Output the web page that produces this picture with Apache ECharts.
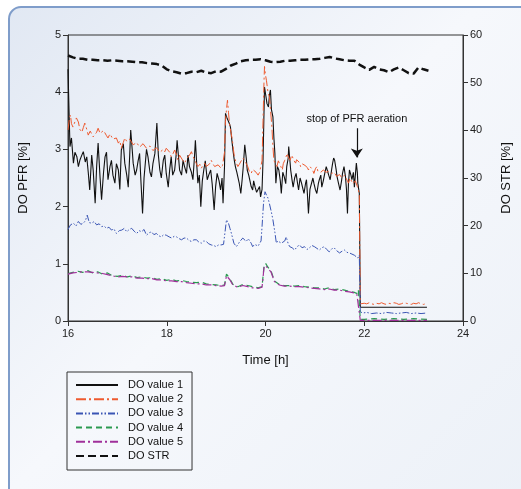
<!DOCTYPE html>
<html>
<head>
<meta charset="utf-8">
<script src="https://cdn.jsdelivr.net/npm/echarts@6/dist/echarts.min.js"></script>
<style>html,body{margin:0;padding:0;background:#fff}#c{width:521px;height:489px}</style>
</head>
<body>
<div id="c"></div>
<script>
// ---- data ----
const legendNames = ['DO value 1', 'DO value 2', 'DO value 3', 'DO value 4', 'DO value 5', 'DO STR'];
const xTicks = [16, 18, 20, 22, 24];
const annotationText = 'stop of PFR aeration';
const annotationTime = 21.85;
const annotationFrom = 3.37;
const annotationTo = 2.86;

const do1Time = [16.00,16.02,16.04,16.07,16.11,16.14,16.18,16.21,16.24,16.28,16.31,16.35,16.38,16.41,16.44,16.48,16.51,16.55,16.58,16.61,16.65,16.68,16.72,16.75,16.78,16.81,16.85,16.88,16.91,16.95,16.98,17.02,17.05,17.08,17.12,17.15,17.19,17.22,17.25,17.27,17.30,17.32,17.36,17.39,17.42,17.45,17.48,17.51,17.54,17.56,17.59,17.62,17.66,17.69,17.72,17.76,17.78,17.80,17.83,17.86,17.89,17.93,17.96,17.99,18.03,18.06,18.09,18.12,18.16,18.19,18.21,18.24,18.26,18.30,18.33,18.36,18.40,18.43,18.46,18.50,18.53,18.56,18.58,18.61,18.63,18.66,18.69,18.72,18.75,18.78,18.82,18.85,18.89,18.92,18.96,18.99,19.02,19.06,19.09,19.12,19.14,19.17,19.19,19.22,19.24,19.27,19.29,19.32,19.34,19.37,19.39,19.42,19.44,19.47,19.50,19.53,19.55,19.58,19.61,19.63,19.66,19.68,19.71,19.74,19.76,19.79,19.82,19.85,19.88,19.90,19.93,19.95,19.98,20.01,20.03,20.06,20.08,20.10,20.12,20.15,20.17,20.19,20.21,20.24,20.27,20.30,20.32,20.35,20.38,20.41,20.43,20.46,20.47,20.50,20.51,20.54,20.56,20.59,20.62,20.65,20.67,20.70,20.73,20.76,20.78,20.81,20.83,20.85,20.87,20.90,20.93,20.96,20.98,21.01,21.04,21.07,21.09,21.12,21.14,21.17,21.20,21.23,21.25,21.28,21.31,21.34,21.36,21.38,21.40,21.43,21.45,21.48,21.51,21.54,21.56,21.59,21.62,21.64,21.66,21.68,21.70,21.73,21.75,21.78,21.80,21.82,21.84,21.86,21.87,21.90,21.92,23.27];
const do1Value = [4.40,3.70,3.05,3.20,2.76,2.95,2.87,2.70,2.81,2.90,2.96,2.78,2.87,2.60,2.29,2.90,2.64,2.06,2.70,3.11,2.50,2.12,2.60,2.87,2.95,2.47,2.70,2.81,2.55,2.41,2.75,2.64,2.30,2.99,3.10,2.76,2.55,2.34,2.90,3.34,3.00,2.76,2.55,2.64,2.80,2.93,2.40,1.88,2.50,2.70,3.00,2.87,2.60,2.52,2.75,2.93,3.20,3.46,2.90,2.64,2.50,2.81,2.90,2.58,2.34,2.65,2.87,2.55,2.64,2.90,3.16,2.85,2.64,2.55,2.81,2.70,2.58,2.90,2.70,2.60,2.47,2.85,3.16,2.70,2.41,2.55,2.00,2.45,2.64,2.80,2.47,2.55,2.64,2.40,1.94,2.35,2.58,2.45,2.29,2.50,2.06,2.70,3.63,3.55,3.51,3.45,3.39,3.15,2.99,2.80,2.70,2.60,2.52,2.40,2.23,2.50,2.70,3.08,2.85,2.64,2.55,2.47,2.35,2.29,2.45,2.34,2.25,2.23,2.35,2.17,2.30,2.81,4.09,3.92,3.80,3.74,3.95,4.04,3.70,3.57,3.20,2.93,2.41,2.70,2.64,2.45,2.23,2.60,2.52,2.40,2.70,2.85,3.05,2.75,2.64,2.45,2.34,2.50,2.58,2.40,2.29,2.50,2.41,2.30,2.23,2.40,2.47,2.20,1.88,2.30,2.29,2.50,2.41,2.30,2.23,2.40,2.47,2.55,2.34,2.45,2.58,2.70,2.64,2.55,2.47,2.65,2.76,2.85,2.81,2.65,2.52,2.40,2.29,2.45,2.58,2.70,2.52,2.30,1.88,2.40,2.64,2.55,2.47,2.60,2.34,2.55,2.76,2.60,2.41,2.23,0.24,0.24];

const do2Time = [16.00,16.03,16.05,16.07,16.10,16.14,16.17,16.21,16.24,16.28,16.31,16.34,16.38,16.41,16.45,16.48,16.51,16.55,16.58,16.61,16.65,16.68,16.72,16.75,16.78,16.81,16.85,16.88,16.91,16.95,16.98,17.02,17.05,17.08,17.12,17.15,17.19,17.22,17.25,17.29,17.32,17.35,17.39,17.42,17.45,17.49,17.52,17.56,17.59,17.62,17.66,17.69,17.72,17.76,17.79,17.82,17.86,17.89,17.93,17.96,17.99,18.03,18.06,18.09,18.13,18.16,18.20,18.23,18.26,18.30,18.33,18.36,18.40,18.43,18.46,18.50,18.53,18.57,18.60,18.63,18.67,18.70,18.73,18.77,18.80,18.84,18.87,18.90,18.94,18.97,19.01,19.04,19.07,19.10,19.13,19.15,19.17,19.19,19.21,19.23,19.25,19.27,19.30,19.33,19.35,19.37,19.40,19.44,19.47,19.51,19.54,19.58,19.61,19.64,19.67,19.71,19.74,19.78,19.81,19.85,19.88,19.91,19.93,19.95,19.97,19.98,20.00,20.02,20.05,20.08,20.10,20.13,20.15,20.17,20.20,20.23,20.26,20.28,20.31,20.34,20.36,20.39,20.42,20.44,20.47,20.50,20.53,20.55,20.58,20.61,20.63,20.66,20.69,20.71,20.74,20.77,20.80,20.82,20.85,20.87,20.90,20.93,20.95,20.98,21.01,21.04,21.06,21.09,21.12,21.14,21.17,21.20,21.23,21.25,21.28,21.31,21.34,21.36,21.39,21.41,21.44,21.47,21.50,21.52,21.55,21.57,21.60,21.63,21.66,21.68,21.71,21.74,21.77,21.79,21.82,21.84,21.86,21.88,21.90,21.92,21.95,22.00,22.05,22.10,22.15,22.20,22.25,22.30,22.35,22.40,22.45,22.50,22.55,22.60,22.65,22.70,22.75,22.80,22.85,22.90,22.95,23.00,23.05,23.10,23.15,23.20,23.27];
const do2Value = [3.34,3.55,3.60,3.45,3.39,3.39,3.55,3.48,3.35,3.30,3.38,3.46,3.35,3.25,3.32,3.30,3.22,3.20,3.30,3.37,3.28,3.25,3.33,3.30,3.24,3.20,3.27,3.25,3.18,3.16,3.20,3.11,3.15,3.02,3.12,3.20,3.14,3.11,3.18,3.16,3.08,3.05,3.12,3.11,3.04,3.02,3.10,3.08,3.02,2.99,3.06,3.05,2.98,2.96,3.03,3.02,2.95,2.96,3.00,2.96,3.02,3.05,2.95,2.87,2.93,2.99,2.90,2.81,2.90,2.87,2.80,2.76,2.83,2.85,2.90,2.96,2.88,2.81,2.75,2.70,2.74,2.67,2.72,2.76,2.70,2.67,2.75,2.81,2.74,2.70,2.68,2.73,2.70,2.67,2.72,2.70,2.95,3.51,3.70,3.86,3.65,3.46,3.30,3.16,3.00,2.87,2.78,2.70,2.74,2.76,2.85,2.81,2.75,2.70,2.62,2.58,2.65,2.64,2.60,2.55,2.60,2.58,2.80,3.51,4.20,4.45,4.30,4.20,4.00,3.92,3.70,3.39,3.05,2.81,2.75,2.70,2.80,2.76,2.70,2.64,2.75,2.81,2.88,2.93,2.85,2.81,2.90,2.87,2.80,2.76,2.82,2.85,2.77,2.70,2.75,2.78,2.72,2.70,2.68,2.64,2.70,2.73,2.65,2.58,2.66,2.70,2.62,2.64,2.60,2.58,2.64,2.67,2.60,2.58,2.62,2.64,2.58,2.55,2.60,2.60,2.53,2.50,2.56,2.58,2.50,2.47,2.55,2.52,2.45,2.41,2.50,2.47,2.40,2.38,2.45,2.43,2.35,2.29,2.23,0.30,0.29,0.31,0.30,0.32,0.30,0.29,0.31,0.30,0.32,0.30,0.29,0.31,0.30,0.32,0.31,0.29,0.30,0.32,0.31,0.30,0.29,0.31,0.30,0.32,0.30,0.29,0.31];

const do3Time = [16.00,16.05,16.11,16.16,16.21,16.26,16.31,16.35,16.39,16.43,16.48,16.53,16.58,16.63,16.68,16.73,16.78,16.83,16.88,16.93,16.98,17.04,17.09,17.14,17.19,17.24,17.29,17.34,17.39,17.44,17.49,17.54,17.59,17.64,17.69,17.74,17.79,17.84,17.89,17.94,17.99,18.05,18.10,18.15,18.20,18.25,18.30,18.35,18.40,18.45,18.50,18.55,18.60,18.65,18.70,18.75,18.80,18.85,18.90,18.95,19.00,19.05,19.10,19.15,19.17,19.21,19.25,19.28,19.31,19.36,19.41,19.45,19.48,19.54,19.58,19.61,19.65,19.68,19.71,19.74,19.78,19.81,19.85,19.88,19.91,19.93,19.96,19.99,20.02,20.05,20.08,20.12,20.15,20.19,20.22,20.25,20.28,20.32,20.35,20.39,20.42,20.46,20.49,20.54,20.59,20.64,20.69,20.74,20.79,20.84,20.89,20.94,20.99,21.04,21.09,21.14,21.19,21.24,21.29,21.34,21.39,21.44,21.50,21.55,21.60,21.65,21.70,21.75,21.80,21.84,21.87,21.90,21.92,21.97,22.05,22.15,22.25,22.35,22.45,22.55,22.65,22.75,22.85,22.95,23.05,23.15,23.27];
const do3Value = [1.60,1.68,1.71,1.66,1.74,1.69,1.71,1.75,1.85,1.72,1.71,1.74,1.68,1.70,1.65,1.66,1.62,1.64,1.59,1.61,1.53,1.58,1.59,1.62,1.56,1.60,1.62,1.57,1.53,1.58,1.56,1.60,1.50,1.54,1.56,1.51,1.53,1.49,1.47,1.51,1.50,1.47,1.45,1.48,1.47,1.44,1.42,1.45,1.45,1.41,1.39,1.42,1.42,1.38,1.36,1.40,1.39,1.35,1.33,1.32,1.30,1.33,1.33,1.34,1.36,1.77,1.71,1.62,1.53,1.36,1.30,1.35,1.39,1.45,1.42,1.39,1.44,1.42,1.36,1.30,1.34,1.36,1.31,1.33,1.40,1.65,2.06,2.26,2.20,2.15,2.05,1.90,1.77,1.55,1.36,1.40,1.39,1.36,1.33,1.40,1.47,1.35,1.30,1.28,1.24,1.30,1.33,1.28,1.30,1.25,1.28,1.32,1.30,1.27,1.24,1.28,1.30,1.25,1.21,1.26,1.28,1.23,1.19,1.22,1.24,1.20,1.19,1.17,1.15,1.13,1.10,1.15,0.16,0.14,0.15,0.13,0.14,0.13,0.15,0.14,0.13,0.14,0.15,0.13,0.14,0.13,0.14];

const do45Time = [16.00,16.10,16.20,16.30,16.40,16.50,16.60,16.70,16.80,16.90,17.00,17.10,17.20,17.30,17.40,17.50,17.60,17.70,17.80,17.90,18.00,18.10,18.20,18.30,18.40,18.50,18.60,18.70,18.80,18.90,19.00,19.10,19.17,19.21,19.27,19.34,19.44,19.54,19.64,19.74,19.85,19.93,19.97,20.00,20.05,20.11,20.18,20.28,20.38,20.49,20.59,20.69,20.79,20.89,20.99,21.09,21.19,21.29,21.39,21.50,21.60,21.70,21.80,21.85,21.88,21.92,22.00,22.20,22.40,22.60,22.80,23.00,23.27];
const do4Value = [0.83,0.85,0.87,0.85,0.88,0.84,0.86,0.82,0.84,0.79,0.78,0.80,0.77,0.79,0.76,0.77,0.75,0.76,0.73,0.74,0.71,0.73,0.70,0.71,0.69,0.68,0.67,0.68,0.65,0.64,0.63,0.62,0.63,0.82,0.75,0.64,0.60,0.64,0.62,0.60,0.58,0.60,0.96,1.01,0.94,0.88,0.70,0.64,0.62,0.62,0.61,0.62,0.60,0.59,0.58,0.58,0.56,0.58,0.55,0.56,0.54,0.52,0.50,0.48,0.55,0.03,0.03,0.04,0.03,0.04,0.03,0.04,0.03];
const do5Value = [0.82,0.84,0.85,0.86,0.86,0.85,0.84,0.83,0.81,0.79,0.77,0.78,0.77,0.77,0.75,0.75,0.74,0.74,0.72,0.72,0.70,0.70,0.69,0.69,0.67,0.66,0.65,0.65,0.63,0.63,0.62,0.61,0.62,0.79,0.73,0.63,0.59,0.62,0.60,0.58,0.57,0.59,0.93,0.97,0.92,0.86,0.69,0.63,0.61,0.61,0.60,0.60,0.59,0.58,0.57,0.56,0.55,0.56,0.54,0.54,0.52,0.51,0.49,0.47,0.46,0.01,0.01,0.01,0.01,0.01,0.01,0.01,0.01];

const strTime = [16.0,16.1,16.2,16.3,16.4,16.5,16.6,16.7,16.8,16.9,17.0,17.1,17.2,17.3,17.4,17.5,17.6,17.7,17.8,17.9,18.0,18.1,18.2,18.3,18.4,18.5,18.6,18.7,18.8,18.9,19.0,19.1,19.2,19.3,19.4,19.5,19.6,19.7,19.8,19.9,20.0,20.1,20.2,20.3,20.4,20.5,20.6,20.7,20.8,20.9,21.0,21.1,21.2,21.3,21.4,21.5,21.6,21.7,21.8,21.9,22.0,22.1,22.2,22.3,22.4,22.5,22.6,22.7,22.8,22.9,23.0,23.1,23.2,23.3];
const strValue = [55.7,55.3,55.0,55.0,54.8,54.8,54.7,54.7,54.6,54.7,54.6,54.5,54.5,54.4,54.3,54.3,54.1,54.0,53.9,53.6,52.8,52.4,52.2,51.9,52.0,52.3,52.2,52.5,52.1,52.0,52.4,52.3,52.9,53.6,54.0,54.5,54.7,54.8,54.8,54.9,54.7,54.4,54.3,54.4,54.6,54.6,54.7,54.8,54.8,54.9,54.9,55.0,55.2,55.4,55.1,54.9,54.7,54.6,54.6,53.8,53.2,52.7,53.3,52.8,52.6,52.2,52.8,53.2,52.6,52.0,51.9,53.2,52.8,52.5];

const pairs = (t, v) => t.map((x, i) => [x, v[i]]);

const FONT = '"Liberation Sans", Arial, sans-serif';
const chart = echarts.init(document.getElementById('c'), null, {renderer: 'canvas'});

function lineSeries(name, data, color, width, dash, yIdx, extra) {
  return Object.assign({
    name, type: 'line', data, yAxisIndex: yIdx, symbol: 'none', showSymbol: false,
    animation: false, silent: true,
    lineStyle: {color, width, type: dash}, itemStyle: {color}
  }, extra || {});
}

chart.setOption({
  backgroundColor: '#ffffff',
  animation: false,
  textStyle: {fontFamily: FONT},
  graphic: [{
    type: 'rect', z: -10, silent: true,
    shape: {x: 9, y: 7, width: 540, height: 520, r: 12},
    style: {
      fill: {type: 'linear', x: 0, y: 0, x2: 1, y2: 1, colorStops: [
        {offset: 0, color: '#e1e8f3'}, {offset: 0.45, color: '#f6f8fc'}, {offset: 1, color: '#ebf0f7'}]},
      stroke: '#7f9dca', lineWidth: 2
    }
  }],
  grid: {left: 68, right: 57, top: 35, bottom: 168, show: true, borderColor: '#333', borderWidth: 1, backgroundColor: 'transparent'},
  legend: {
    data: legendNames, orient: 'vertical', left: 67, top: 372,
    borderColor: '#333', borderWidth: 1, padding: [7, 9, 8, 8],
    itemWidth: 42, itemHeight: 10, itemGap: 2.2, selectedMode: false,
    itemStyle: {opacity: 0},
    textStyle: {fontSize: 11, color: '#111', fontFamily: FONT, lineHeight: 12, padding: [0, 0, 0, 5]}
  },
  xAxis: {
    type: 'value', min: xTicks[0], max: xTicks[xTicks.length - 1], interval: 2,
    name: 'Time [h]', nameLocation: 'middle', nameGap: 33,
    nameTextStyle: {fontSize: 13, color: '#111', fontFamily: FONT},
    axisLine: {show: true, lineStyle: {color: '#333', width: 1}},
    axisTick: {show: true, length: 5, lineStyle: {color: '#333'}},
    axisLabel: {fontSize: 11, color: '#222', margin: 7, fontFamily: FONT},
    splitLine: {show: false}
  },
  yAxis: [{
    type: 'value', min: 0, max: 5, interval: 1, position: 'left',
    name: 'DO PFR [%]', nameLocation: 'middle', nameRotate: 90, nameGap: 38,
    nameTextStyle: {fontSize: 13, color: '#111', fontFamily: FONT},
    axisLine: {show: true, lineStyle: {color: '#333', width: 1}},
    axisTick: {show: true, length: 5, lineStyle: {color: '#333'}},
    axisLabel: {fontSize: 11, color: '#222', margin: 7, fontFamily: FONT},
    splitLine: {show: false}
  }, {
    type: 'value', min: 0, max: 60, interval: 10, position: 'right',
    name: 'DO STR [%]', nameLocation: 'middle', nameRotate: 90, nameGap: 37,
    nameTextStyle: {fontSize: 13, color: '#111', fontFamily: FONT},
    axisLine: {show: true, lineStyle: {color: '#333', width: 1}},
    axisTick: {show: true, length: 5, lineStyle: {color: '#333'}},
    axisLabel: {fontSize: 11, color: '#222', margin: 7, fontFamily: FONT},
    splitLine: {show: false}
  }],
  series: [
    lineSeries(legendNames[0], pairs(do1Time, do1Value), '#111111', 1.1, 'solid', 0, {
      markLine: {
        silent: true, animation: false, symbol: ['none', 'arrow'], symbolSize: 9,
        lineStyle: {color: '#111', width: 1.2, type: 'solid'},
        emphasis: {disabled: true},
        label: {show: true, position: 'start', formatter: annotationText, fontSize: 11, color: '#111', fontFamily: FONT, distance: 4},
        data: [[{coord: [annotationTime, annotationFrom], symbol: 'none'}, {coord: [annotationTime, annotationTo], symbol: 'arrow', symbolSize: 9}]]
      }
    }),
    lineSeries(legendNames[1], pairs(do2Time, do2Value), '#ee5a2f', 1, [10, 3, 2, 3], 0),
    lineSeries(legendNames[2], pairs(do3Time, do3Value), '#3a55b4', 1, [7, 2, 1.5, 2, 1.5, 2], 0),
    lineSeries(legendNames[3], pairs(do45Time, do4Value), '#2a9a50', 1.2, [6, 4], 0),
    lineSeries(legendNames[4], pairs(do45Time, do5Value), '#a0309a', 1.2, [9, 3, 2, 3], 0),
    lineSeries(legendNames[5], pairs(strTime, strValue), '#111111', 2.5, [8, 4], 1)
  ]
});
</script>
</body>
</html>
